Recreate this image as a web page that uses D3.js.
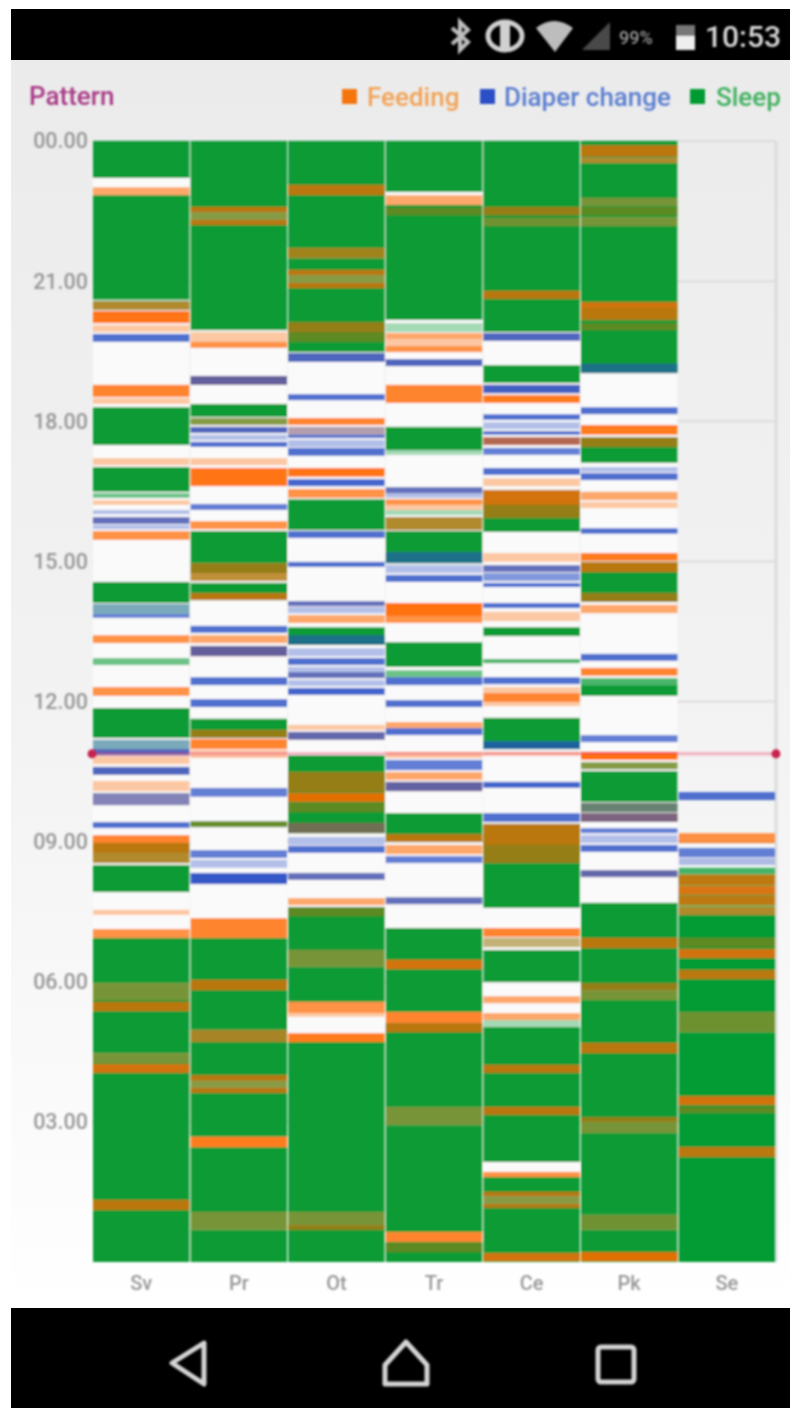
<!DOCTYPE html>
<html><head><meta charset="utf-8">
<style>html,body{margin:0;padding:0;background:#fff}svg{display:block}text{font-family:Roboto,sans-serif}</style>
<script src="https://cdn.jsdelivr.net/npm/d3@7"></script></head>
<body><svg id="c" width="790" height="1408"></svg>
<script>
const days = ["Sv","Pr","Ot","Tr","Ce","Pk","Se"];
const hourTicks = [3,6,9,12,15,18,21,24];
const legendNames = ["Feeding","Diaper change","Sleep"];
const chartTitle = "Pattern";
const statusTime = "10:53";
const statusBattery = "99%";
const nowHour = 10.88;

// [from hour, to hour, weeks overlapping], one list per weekday
const sleepSv = [[23.21,24,10],[20.60,22.84,10],[20.38,20.58,3],[17.49,18.30,10],[16.49,17.02,10],[16.36,16.46,2],[14.11,14.56,10],[13.87,14.09,1],[12.78,12.93,2],[11.22,11.86,10],[10.98,11.18,1],[8.76,8.97,10],[8.54,8.76,3],[7.92,8.50,10],[5.97,6.94,10],[5.61,5.97,4],[4.47,5.61,10],[4.26,4.47,4],[0,4.26,10]];
const feedSv = [[22.84,23.01,2],[20.38,20.57,2],[20.10,20.36,6],[19.91,20.06,1],[18.52,18.78,4],[18.37,18.50,1],[17.06,17.21,1],[16.21,16.31,1],[15.80,15.95,1],[15.46,15.65,3],[13.25,13.42,3],[12.12,12.31,3],[10.85,10.98,1],[10.66,10.83,1],[10.43,10.60,1],[10.08,10.30,1],[9.78,10.04,1],[8.97,9.14,4],[8.76,8.97,3],[8.54,8.76,2],[7.43,7.54,1],[6.94,7.13,3],[5.61,5.97,1],[5.37,5.57,3],[4.26,4.47,1],[4.05,4.24,4],[1.11,1.33,3]];
const diaperSv = [[19.70,19.87,4],[16.01,16.10,1],[15.80,15.95,3],[15.69,15.78,1],[13.87,14.09,1],[13.79,13.87,3],[10.98,11.18,1],[10.85,10.98,4],[10.43,10.60,4],[9.78,10.04,2],[9.29,9.42,4]];

const sleepPr = [[22.48,24,10],[22.31,22.48,3],[19.95,22.31,10],[18.09,18.37,10],[17.92,18.07,3],[14.96,15.65,10],[14.75,14.96,10],[14.58,14.75,2],[14.17,14.54,10],[11.22,11.63,10],[9.31,9.44,6],[4.97,6.94,10],[4.71,4.97,4],[3.88,4.71,10],[3.73,3.88,3],[2.68,3.73,10],[1.07,2.46,10],[0.69,1.07,4],[0,0.69,10]];
const feedPr = [[22.48,22.59,3],[22.31,22.48,1],[22.20,22.31,3],[19.70,19.91,1],[19.57,19.70,3],[18.78,18.97,4],[17.92,18.07,1],[17.75,17.88,1],[17.06,17.21,1],[16.61,17.00,6],[15.69,15.86,3],[14.75,14.96,2],[14.58,14.75,2],[14.17,14.32,3],[13.25,13.42,2],[12.97,13.19,4],[11.22,11.39,2],[10.98,11.20,4],[10.79,10.96,1],[9.31,9.44,1],[6.94,7.36,4],[5.82,6.04,3],[4.71,4.97,2],[3.88,4.00,3],[3.73,3.88,1],[3.62,3.73,3],[2.46,2.68,5],[0.69,1.07,1]];
const diaperPr = [[18.78,18.97,3],[17.75,17.88,4],[17.60,17.71,1],[17.45,17.56,4],[16.10,16.23,3],[13.47,13.62,4],[12.97,13.19,3],[12.35,12.52,4],[11.88,12.05,4],[9.96,10.15,3],[8.65,8.82,3],[8.44,8.61,1],[8.09,8.33,7]];

const sleepOt = [[21.71,24,10],[21.49,21.71,5],[21.13,21.49,10],[20.96,21.13,3],[19.48,20.96,10],[15.67,16.33,10],[13.21,13.59,10],[9.18,10.85,10],[6.68,7.60,10],[6.32,6.68,4],[5.57,6.32,10],[1.07,4.71,10],[0.79,1.07,4],[0,0.79,10]];
const feedOt = [[22.84,23.06,3],[21.49,21.71,2],[21.13,21.24,3],[20.96,21.13,1],[20.85,20.96,3],[19.91,20.12,2],[19.70,19.91,1],[19.27,19.46,1],[17.92,18.07,4],[17.71,17.88,1],[16.81,17.00,6],[16.36,16.55,3],[14.04,14.15,1],[13.68,13.85,2],[12.50,12.63,1],[11.39,11.50,1],[11.18,11.35,2],[10.06,10.49,2],[9.85,10.04,5],[9.63,9.83,1],[9.18,9.40,2],[8.18,8.33,1],[7.64,7.79,2],[7.40,7.60,1],[6.32,6.68,1],[5.33,5.57,3],[5.25,5.33,1],[4.71,4.90,5],[0.79,1.07,1],[0.69,0.79,2]];
const diaperOt = [[19.27,19.46,4],[18.45,18.58,4],[17.71,17.88,1],[17.64,17.71,4],[17.45,17.60,1],[17.26,17.43,4],[16.61,16.76,5],[15.50,15.65,4],[14.88,14.99,4],[14.04,14.15,3],[13.89,14.02,1],[13.21,13.42,2],[12.97,13.14,1],[12.78,12.93,4],[12.63,12.74,1],[12.50,12.63,3],[12.33,12.46,1],[12.14,12.29,5],[11.18,11.35,3],[9.18,9.40,1],[8.93,9.10,1],[8.76,8.91,4],[8.18,8.33,3]];

const sleepTr = [[22.91,24,10],[20.17,22.63,10],[19.91,20.10,1],[17.38,17.88,10],[17.28,17.38,1],[15.99,16.10,1],[15.67,15.95,3],[14.96,15.65,10],[12.74,13.27,10],[12.52,12.67,2],[8.99,9.61,10],[5.35,7.15,10],[3.32,5.12,10],[2.93,3.32,4],[0.64,2.93,10],[0,0.43,10]];
const feedTr = [[22.63,22.84,2],[22.41,22.57,1],[19.76,19.89,2],[19.61,19.76,1],[19.48,19.61,3],[19.18,19.33,1],[18.39,18.78,4],[16.46,16.59,1],[16.21,16.33,3],[16.10,16.21,1],[15.67,15.95,2],[13.83,14.11,7],[13.68,13.83,3],[11.43,11.56,2],[10.79,10.92,1],[10.32,10.49,2],[10.08,10.28,3],[8.99,9.16,3],[8.73,8.93,2],[7.66,7.81,1],[6.27,6.47,4],[5.12,5.35,4],[4.92,5.12,3],[2.93,3.32,1],[0.43,0.64,4],[0.21,0.41,1]];
const diaperTr = [[19.18,19.33,4],[16.46,16.59,3],[16.36,16.46,1],[14.96,15.20,2],[14.75,14.92,1],[14.56,14.71,4],[12.35,12.52,4],[11.88,12.03,4],[11.28,11.43,4],[10.53,10.75,3],[10.08,10.28,3],[8.54,8.69,3],[7.66,7.81,3]];

const sleepCe = [[22.35,24,10],[22.18,22.35,5],[19.91,22.18,10],[18.82,19.20,10],[15.63,16.53,10],[13.40,13.59,10],[12.82,12.91,3],[10.98,11.65,10],[8.54,9.38,10],[7.58,8.54,10],[6.74,6.94,1],[5.99,6.68,10],[5.03,5.18,1],[2.14,5.03,10],[1.41,1.82,10],[1.24,1.41,3],[0,1.24,10]];
const feedCe = [[22.41,22.59,2],[22.18,22.35,1],[20.62,20.79,3],[19.72,19.89,1],[18.60,18.78,1],[18.39,18.56,5],[17.49,17.66,6],[16.61,16.78,1],[16.21,16.53,4],[15.93,16.21,2],[14.99,15.18,1],[14.77,14.92,1],[13.72,13.92,1],[12.18,12.31,1],[11.99,12.18,4],[11.90,11.99,1],[10.85,10.92,1],[8.93,9.38,3],[8.54,8.93,2],[6.96,7.15,4],[6.74,6.94,1],[5.54,5.69,2],[5.18,5.33,2],[4.05,4.22,3],[3.15,3.32,3],[1.82,1.93,3],[1.41,1.50,3],[1.24,1.41,1],[1.16,1.24,3],[0.02,0.19,4]];
const diaperCe = [[19.72,19.89,4],[18.60,18.78,5],[18.03,18.15,4],[17.83,17.98,1],[17.71,17.79,4],[17.49,17.66,1],[17.28,17.43,3],[16.85,17.00,4],[14.77,14.92,3],[14.58,14.75,2],[14.45,14.54,4],[14.00,14.11,4],[12.37,12.52,4],[10.98,11.15,3],[10.15,10.28,5],[9.42,9.61,4]];

const sleepPk = [[23.64,24,10],[23.53,23.64,3],[22.78,23.53,10],[22.61,22.78,4],[22.37,22.61,10],[22.18,22.37,4],[19.03,22.18,10],[17.11,17.66,10],[14.13,14.99,10],[12.35,12.50,3],[12.12,12.35,10],[10.55,10.70,3],[9.85,10.51,10],[9.63,9.83,3],[9.42,9.61,1],[5.82,7.69,10],[5.61,5.82,4],[3.00,5.61,10],[2.76,3.00,4],[1.01,2.76,10],[0.69,1.01,5],[0,0.69,10]];
const feedPk = [[23.66,23.91,3],[23.53,23.64,2],[22.61,22.78,1],[22.41,22.59,1],[22.18,22.37,1],[20.42,20.55,4],[20.17,20.42,3],[19.95,20.10,1],[17.71,17.92,5],[17.45,17.66,2],[16.31,16.49,2],[16.14,16.27,1],[15.01,15.18,5],[14.77,14.99,3],[14.13,14.32,2],[13.89,14.07,2],[12.55,12.72,4],[10.75,10.92,7],[10.55,10.70,1],[9.63,9.83,1],[9.42,9.61,4],[8.24,8.39,2],[6.72,6.94,3],[5.82,5.97,2],[5.61,5.82,1],[4.47,4.69,3],[3.00,3.10,2],[2.76,3.00,1],[0.69,1.01,1],[0.02,0.21,5]];
const diaperPk = [[19.03,19.23,2],[18.15,18.30,4],[16.74,16.89,4],[16.91,17.02,1],[15.59,15.71,4],[12.87,13.02,4],[11.13,11.28,3],[9.63,9.83,1],[9.42,9.61,2],[9.18,9.29,3],[8.97,9.14,1],[8.78,8.93,4],[8.24,8.39,3]];

const sleepSe = [[8.29,8.44,3],[8.07,8.29,6],[7.86,8.07,4],[7.64,7.86,6],[7.43,7.64,3],[5.35,7.43,10],[4.92,5.35,5],[0,4.92,10]];
const feedSe = [[8.97,9.18,3],[8.07,8.29,3],[7.86,8.05,4],[7.64,7.84,3],[7.43,7.60,2],[6.74,6.94,1],[6.51,6.70,4],[6.06,6.25,3],[4.92,5.35,1],[3.36,3.55,4],[3.19,3.32,1],[2.25,2.46,3]];
const diaperSe = [[9.89,10.06,4],[8.67,8.86,3],[8.50,8.65,1]];

const sleepByDay = [sleepSv,sleepPr,sleepOt,sleepTr,sleepCe,sleepPk,sleepSe];
const feedByDay = [feedSv,feedPr,feedOt,feedTr,feedCe,feedPk,feedSe];
const diaperByDay = [diaperSv,diaperPr,diaperOt,diaperTr,diaperCe,diaperPk,diaperSe];

const svg = d3.select("#c");
const defs = svg.append("defs");
const g0 = defs.append("linearGradient").attr("id","bg").attr("x1",0).attr("y1",0).attr("x2",0).attr("y2",1);
g0.append("stop").attr("offset",0).attr("stop-color","#ebebeb");
g0.append("stop").attr("offset",.55).attr("stop-color","#f3f3f3");
g0.append("stop").attr("offset",.9).attr("stop-color","#fcfcfc");
g0.append("stop").attr("offset",1).attr("stop-color","#ffffff");
defs.append("filter").attr("id","b1").attr("x","-2%").attr("y","-2%").attr("width","104%").attr("height","104%")
  .append("feGaussianBlur").attr("stdDeviation",1.3);
defs.append("filter").attr("id","b2").attr("x","-10%").attr("y","-20%").attr("width","120%").attr("height","140%")
  .append("feGaussianBlur").attr("stdDeviation",1.0);

svg.append("rect").attr("width",790).attr("height",1408).attr("fill","#fff");
svg.append("rect").attr("x",11).attr("y",60).attr("width",779).attr("height",1248).attr("fill","url(#bg)");

const y = d3.scaleLinear().domain([0,24]).range([1262,141]);
const x = d3.scaleBand().domain(days).range([93,775]).paddingInner(0.012).paddingOuter(0);

// grid
const gridG = svg.append("g").attr("filter","url(#b1)");
gridG.selectAll("line.h").data(hourTicks).join("line")
  .attr("x1",93).attr("x2",775).attr("y1",d=>y(d)).attr("y2",d=>y(d))
  .attr("stroke","#dcdcdc").attr("stroke-width",2);
gridG.append("line").attr("x1",776).attr("x2",776).attr("y1",141).attr("y2",1262).attr("stroke","#dcdcdc").attr("stroke-width",3);

// columns
const marks = svg.append("g").attr("filter","url(#b1)");
marks.selectAll("rect.col").data(days.slice(0,6)).join("rect").attr("class","col")
  .attr("x",d=>x(d)).attr("width",x.bandwidth()).attr("y",y(24)).attr("height",y(0)-y(24))
  .attr("fill","#fafafa");

const series = [
  {name:legendNames[2], color:"#049a33", data:sleepByDay},
  {name:legendNames[0], color:"#ff6a00", data:feedByDay},
  {name:legendNames[1], color:"#2a50c6", data:diaperByDay}
];
const alpha = n => 1 - Math.pow(0.65, n);
series.forEach(s => {
  const flat = s.data.flatMap((list,i) => list.map(v => ({day:days[i], from:v[0], to:v[1], n:v[2]})));
  marks.append("g").selectAll("rect").data(flat).join("rect")
    .attr("x",d=>x(d.day)).attr("width",x.bandwidth())
    .attr("y",d=>y(d.to)).attr("height",d=>y(d.from)-y(d.to))
    .attr("fill",s.color).attr("fill-opacity",d=>alpha(d.n));
});

// current time marker
const nowG = svg.append("g").attr("filter","url(#b2)");
nowG.append("line").attr("x1",92).attr("x2",776).attr("y1",y(nowHour)).attr("y2",y(nowHour))
  .attr("stroke","#e8446a").attr("stroke-opacity",.35).attr("stroke-width",3.5);
nowG.selectAll("circle").data([92,776]).join("circle").attr("cx",d=>d).attr("cy",y(nowHour)).attr("r",4.5).attr("fill","#c8204e");

// axes
const axY = d3.axisLeft(y).tickValues(hourTicks).tickSize(0).tickPadding(5)
  .tickFormat(h => d3.format("02")(h%24)+".00");
const gy = svg.append("g").attr("transform","translate(93,0)").attr("filter","url(#b2)").call(axY);
gy.select(".domain").remove();
gy.selectAll("text").attr("fill","#979797").attr("font-size",21.5).attr("font-weight",500).style("font-family","Roboto,sans-serif");

const axX = d3.axisBottom(x).tickSize(0).tickPadding(14);
const gx = svg.append("g").attr("transform","translate(0,1262)").attr("filter","url(#b2)").call(axX);
gx.select(".domain").remove();
gx.selectAll("text").attr("fill","#979797").attr("font-size",20).attr("font-weight",500).style("font-family","Roboto,sans-serif");

// title and legend
const head = svg.append("g").attr("filter","url(#b2)");
head.append("text").attr("x",29).attr("y",105).attr("font-size",26).attr("font-weight",500).attr("fill","#a83a86").text(chartTitle);
const legendItems = [
  {label:legendNames[0], sx:342, tx:367, c:"#f5740f", t:"#f2a356"},
  {label:legendNames[1], sx:480, tx:504, c:"#2a50c6", t:"#5a7ed0"},
  {label:legendNames[2], sx:690, tx:716, c:"#049a33", t:"#3fb05f"}
];
const li = head.selectAll("g.li").data(legendItems).join("g");
li.append("rect").attr("x",d=>d.sx).attr("y",89).attr("width",15).attr("height",15).attr("fill",d=>d.c);
li.append("text").attr("x",d=>d.tx).attr("y",106).attr("font-size",26).attr("font-weight",500).attr("fill",d=>d.t).text(d=>d.label);

// phone chrome
svg.append("rect").attr("x",11).attr("y",9).attr("width",779).attr("height",51).attr("fill","#000");
svg.append("rect").attr("x",11).attr("y",1308).attr("width",779).attr("height",100).attr("fill","#000");
const st = svg.append("g").attr("filter","url(#b2)");
st.append("text").attr("x",705).attr("y",47).attr("font-size",30).attr("font-weight",500).attr("fill","#d8d8d8").text(statusTime);
st.append("text").attr("x",619).attr("y",44).attr("font-size",18).attr("font-weight",500).attr("fill","#9a9a9a").text(statusBattery);
st.append("rect").attr("x",676).attr("y",25).attr("width",19).attr("height",25).attr("fill","#777");
st.append("rect").attr("x",676).attr("y",36).attr("width",19).attr("height",14).attr("fill","#eee");
st.append("path").attr("d","M582,50 L610,22 L610,50 Z").attr("fill","#4a4a4a");
st.append("path").attr("d","M536,28 Q554,14 573,28 L555,52 Z").attr("fill","#bdbdbd");
st.append("ellipse").attr("cx",505).attr("cy",36).attr("rx",17).attr("ry",14).attr("fill","none").attr("stroke","#d0d0d0").attr("stroke-width",5);
st.append("rect").attr("x",500).attr("y",24).attr("width",10).attr("height",24).attr("fill","#d0d0d0");
st.append("path").attr("d","M452,28 L468,42 L460,50 L460,22 L468,30 L452,44").attr("fill","none").attr("stroke","#bdbdbd").attr("stroke-width",4);

const nav = svg.append("g").attr("fill","none").attr("stroke","#d4d4d4").attr("stroke-width",5).attr("stroke-linejoin","round").attr("filter","url(#b2)");
nav.append("path").attr("d","M204,1343 L172,1363 L204,1384 Z");
nav.append("path").attr("d","M406,1342 L427,1365 L427,1384 L385,1384 L385,1365 Z");
nav.append("rect").attr("x",598).attr("y",1347).attr("width",36).attr("height",35).attr("rx",3);
</script></body></html>
